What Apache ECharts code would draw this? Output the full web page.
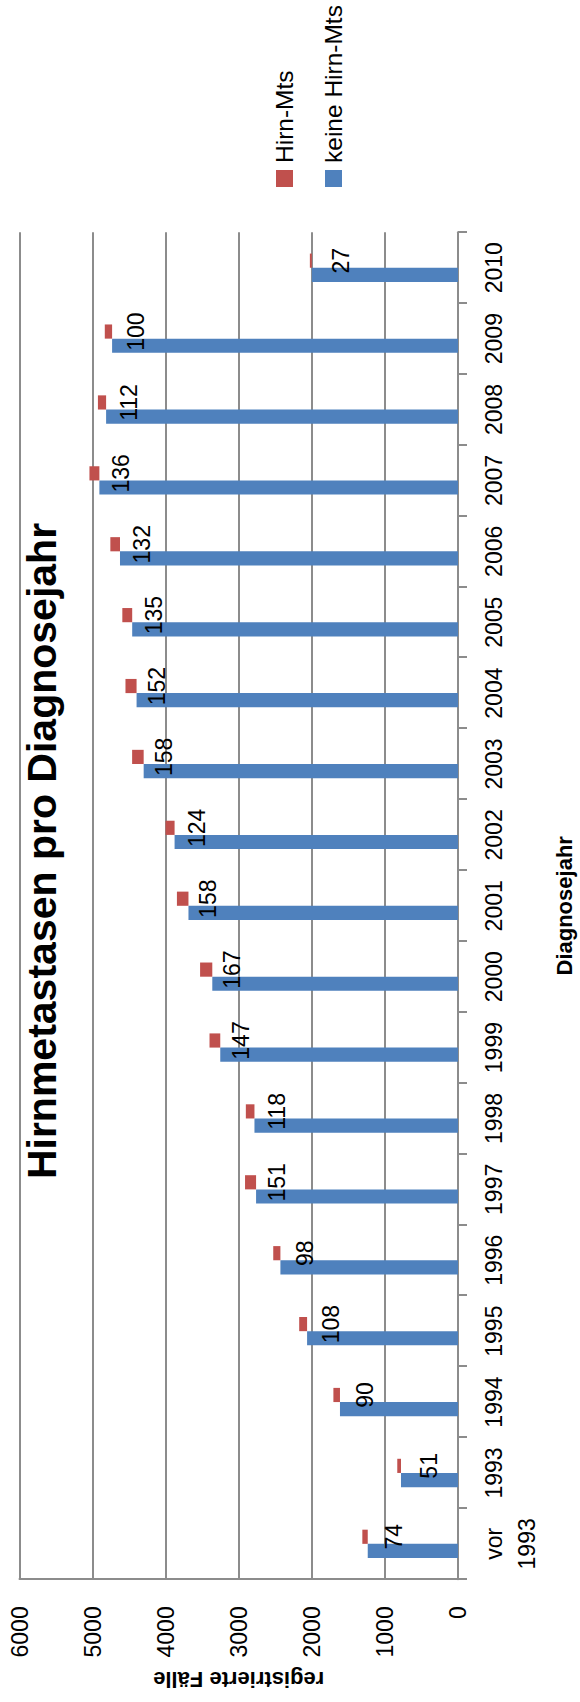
<!DOCTYPE html>
<html>
<head>
<meta charset="utf-8">
<title>Hirnmetastasen pro Diagnosejahr</title>
<script src="https://cdn.jsdelivr.net/npm/echarts@6/dist/echarts.min.js"></script>
<style>
  html, body { margin: 0; padding: 0; background: #fff; width: 580px; height: 1702px; overflow: hidden; }
  /* The column chart is laid out landscape and turned a quarter turn counter-clockwise onto the portrait page. */
  #chart {
    position: absolute; left: 0; top: 0;
    width: 1702px; height: 580px;
    transform-origin: 0 0;
    transform: translateY(1702px) rotate(-90deg);
  }
</style>
</head>
<body>
<div id="chart"></div>
<script>
// Diagnosis years
const categories = ['vor\n1993', '1993', '1994', '1995', '1996', '1997', '1998', '1999', '2000',
  '2001', '2002', '2003', '2004', '2005', '2006', '2007', '2008', '2009', '2010'];

// Registered cases with brain metastases
const hirnMts = [74, 51, 90, 108, 98, 151, 118, 147, 167, 158, 124, 158, 152, 135, 132, 136, 112, 100, 27];

// Registered cases without brain metastases
const keineHirnMts = [1235, 780, 1615, 2065, 2430, 2763, 2785, 3253, 3362, 3688, 3878, 4301, 4398, 4458,
  4625, 4907, 4815, 4733, 2000];

// Value axis ticks
const valueMin = 0;
const valueMax = 6000;
const valueStep = 1000;

const FONT = '"Liberation Sans", Arial, sans-serif';
const GRID_GRAY = '#8c8c8c';
const BLUE = '#4f81bd';
const RED = '#c0504d';

const chart = echarts.init(document.getElementById('chart'), null, { renderer: 'svg' });

chart.setOption({
  animation: false,
  backgroundColor: '#ffffff',
  textStyle: { fontFamily: FONT, color: '#000' },
  title: {
    text: 'Hirnmetastasen pro Diagnosejahr',
    left: 'center',
    top: 21,
    padding: [0, 8, 0, 0],
    textStyle: { fontFamily: FONT, fontSize: 41, fontWeight: 'bold', color: '#000' }
  },
  legend: {
    data: ['Hirn-Mts', 'keine Hirn-Mts'],
    orient: 'vertical',
    left: 1510,
    top: 267,
    itemWidth: 17,
    itemHeight: 17,
    itemGap: 24,
    icon: 'rect',
    textStyle: { fontFamily: FONT, fontSize: 24.5, color: '#000', padding: [0, 0, 0, 2] }
  },
  grid: { left: 122.7, right: 232.3, top: 19.5, bottom: 120, containLabel: false },
  xAxis: {
    type: 'category',
    data: categories,
    name: 'Diagnosejahr',
    nameLocation: 'middle',
    nameGap: 95,
    nameTextStyle: { fontFamily: FONT, fontSize: 22, fontWeight: 'bold', color: '#000' },
    axisLine: { show: true, lineStyle: { color: GRID_GRAY, width: 2 } },
    axisTick: { show: true, inside: false, length: 9, alignWithLabel: false, lineStyle: { color: GRID_GRAY, width: 2 } },
    axisLabel: { interval: 0, margin: 19, fontFamily: FONT, fontSize: 23, lineHeight: 33, color: '#000' }
  },
  yAxis: {
    type: 'value',
    min: valueMin,
    max: valueMax,
    interval: valueStep,
    name: 'registrierte Fälle',
    nameLocation: 'middle',
    nameGap: 89,
    nameTextStyle: { fontFamily: FONT, fontSize: 22, fontWeight: 'bold', color: '#000' },
    axisLine: { show: true, lineStyle: { color: GRID_GRAY, width: 2 } },
    axisTick: { show: false },
    axisLabel: {
      margin: 27,
      fontFamily: FONT,
      fontSize: 23,
      color: '#000',
      formatter: (v) => String(v)
    },
    splitLine: { show: true, lineStyle: { color: GRID_GRAY, width: 2 } }
  },
  series: [
    {
      name: 'keine Hirn-Mts',
      type: 'bar',
      stack: 'ohne',
      barWidth: '20%',
      barGap: '0%',
      data: keineHirnMts,
      itemStyle: { color: BLUE }
    },
    {
      // invisible base so the brain-metastasis segment starts where the blue column ends
      name: 'Sockel',
      type: 'bar',
      stack: 'mit',
      barWidth: '20%',
      barGap: '0%',
      silent: true,
      data: keineHirnMts,
      itemStyle: { color: 'rgba(0,0,0,0)' },
      emphasis: { disabled: true },
      tooltip: { show: false }
    },
    {
      name: 'Hirn-Mts',
      type: 'bar',
      stack: 'mit',
      barWidth: '20%',
      barGap: '0%',
      data: hirnMts,
      itemStyle: { color: RED },
      label: {
        show: true,
        position: 'insideTop',
        distance: 20,
        fontFamily: FONT,
        fontSize: 23,
        color: '#000'
      }
    }
  ]
});
</script>
</body>
</html>
